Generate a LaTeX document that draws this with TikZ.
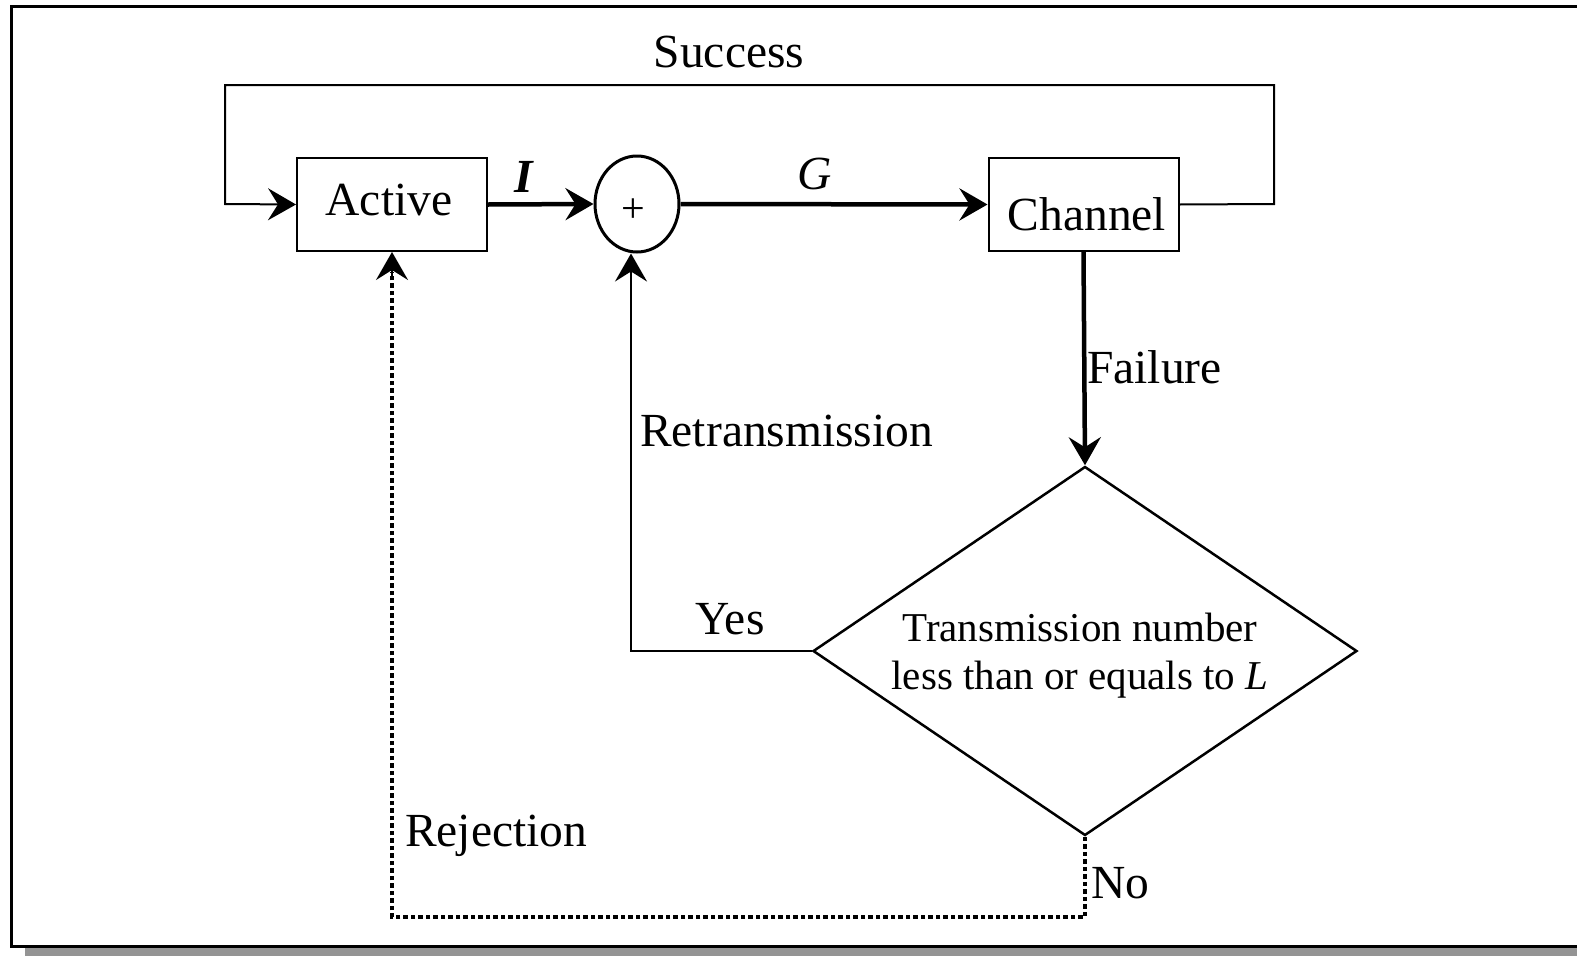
\documentclass[tikz,border=0pt]{standalone}
\usepackage{fontspec}
\setmainfont{Liberation Serif}
\usetikzlibrary{arrows.meta,shapes.geometric}
\tikzset{
  box/.style={draw,line width=2pt,minimum width=190pt,minimum height=93pt,inner sep=0pt},
  lbl/.style={inner sep=0pt,font=\fontsize{47.5}{56}\selectfont},
  thin/.style={line width=2pt},
  thick/.style={line width=4.5pt},
  dotline/.style={line width=4.5pt,dash pattern=on 4.5pt off 3pt},
  arr/.style={-{Stealth[length=28pt,width=32pt,inset=10pt]}},
}
\begin{document}
\begin{tikzpicture}[x=1pt,y=-1pt]
\useasboundingbox (0,0) rectangle (1577,956);
\fill[black!42] (25,947) rectangle (1577,956);
\draw[line width=3pt] (1590,6) -- (11,6) -- (11,946) -- (1590,946);
% nodes
\node[box] (act) at (392,204.5) {};
\node[box] (chan) at (1083.5,204.5) {};
\node[draw,ellipse,line width=3pt,minimum width=84pt,minimum height=96pt,inner sep=0pt] (sum) at (637,204) {};
\node[draw,diamond,line width=2.5pt,minimum width=544pt,minimum height=369pt,inner sep=0pt] (dia) at (1085,651) {};
% texts
\node[lbl,anchor=base] (tact) at (389,215) {Active};
\node[lbl,anchor=base] (tchan) at (1087,230) {Channel};
\node[inner sep=0pt,font=\fontsize{42}{42}\selectfont] (plus) at (633,211) {+};
\node[lbl,anchor=base] (tsucc) at (729,67) {Success};
\node[lbl,anchor=base] (tI) at (524,192) {\textbf{\textit{I}}};
\node[lbl,anchor=base] (tG) at (815,189) {\textit{G}};
\node[lbl,anchor=base west] (tfail) at (1087,383) {Failure};
\node[lbl,anchor=base west] (tret) at (640,446) {Retransmission};
\node[lbl,anchor=base] (tyes) at (730,634) {Yes};
\node[inner sep=0pt,font=\fontsize{41}{48}\selectfont,align=center,anchor=base] (tdia) at (1080,689) {Transmission number\\less than or equals to \textit{L}};
\node[lbl,anchor=base west] (trej) at (405,846) {Rejection};
\node[lbl,anchor=base west] (tno) at (1091,898) {No};
% coordinates
\coordinate (s1) at (1274,204);
\coordinate (s2) at (1274,85);
\coordinate (s3) at (225,85);
\coordinate (s4) at (225,204);
\coordinate (r1) at (631,651);
\coordinate (d1) at (1085,917);
\coordinate (d2) at (392,917);
% connectors
\draw[thin,arr] (chan.east) -- (s1) -- (s2) -- (s3) -- (s4) -- (act.west);
\draw[thick,arr] (act.east) -- (sum.west);
\draw[thick,arr] (sum.east) -- (chan.west);
\draw[thick,arr] (chan.south) -- (dia.north);
\draw[thin,arr] (dia.west) -- (r1) -- (r1 |- sum.south);
\draw[dotline] (dia.south) -- (d1) -- (d2) -- ([yshift=-20pt]act.south);
\draw[thin,arr] ([yshift=-24pt]act.south) -- (act.south);
\end{tikzpicture}
\end{document}
